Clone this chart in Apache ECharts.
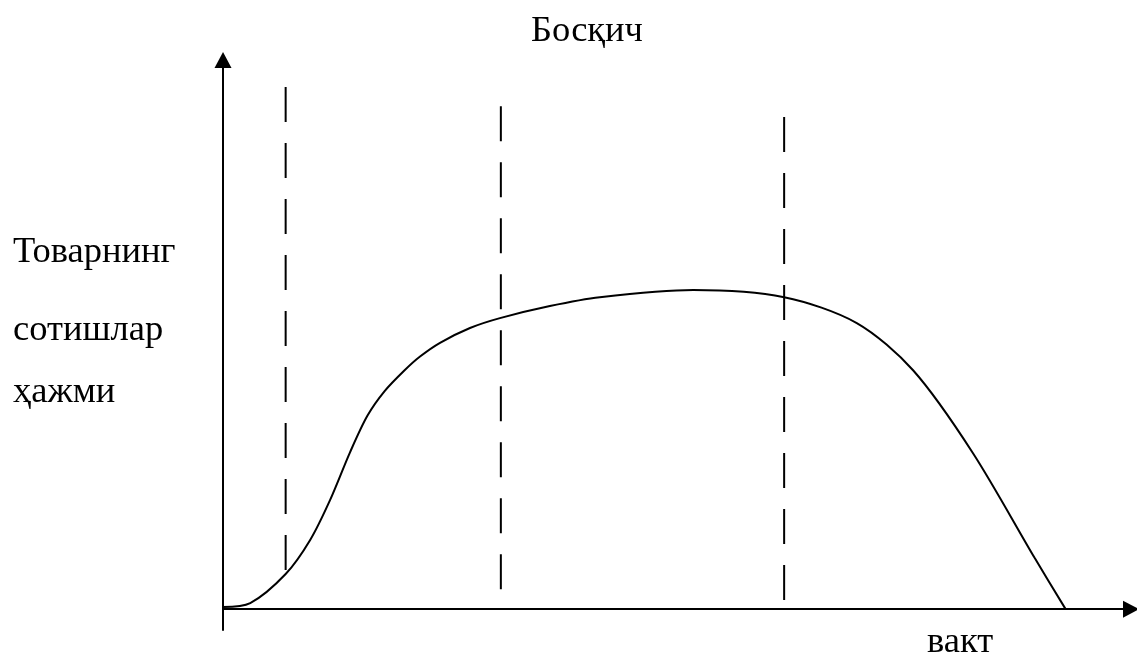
<!DOCTYPE html>
<html>
<head>
<meta charset="utf-8">
<script src="https://cdn.jsdelivr.net/npm/echarts@6/dist/echarts.min.js"></script>
<style>
  html, body { margin: 0; padding: 0; background: #fff; }
  #chart { width: 1137px; height: 656px; }
</style>
</head>
<body>
<div id="chart"></div>
<script>
// сотиш эгри чизиғи (вакт, ҳажм)
const curveX = [0, 3.0, 6.9, 9.6, 11.8, 14.0, 15.9, 17.8, 20.0, 21.7, 23.9, 27.2, 30.5, 36.0, 41.5, 51.8, 61.8, 69.8, 76.0, 82.6, 89.4, 92.8];
const curveY = [0.4, 1.1, 6.4, 12.6, 19.9, 28.6, 35.2, 39.7, 43.5, 46.0, 48.5, 51.2, 53.0, 55.2, 56.8, 58.1, 56.8, 52.1, 43.5, 28.4, 9.3, 0];

// босқич чегаралари (пунктир чизиқлар)
const stageX = [6.9, 30.6, 61.8];
const stageTop = [95.1, 91.6, 89.6];
const stageBottom = [3.8, 0.4, 1.1];

const titleText = "Босқич";
const yNameLines = ["Товарнинг", "сотишлар", "ҳажми"];
const xNameText = "вакт";

const font = '36.5px "Liberation Serif", "DejaVu Serif", serif';

const chart = echarts.init(document.getElementById("chart"));

const series = [];
stageX.forEach((x, i) => {
  series.push({
    type: "line",
    data: [[x, stageTop[i]], [x, stageBottom[i]]],
    symbol: "none",
    silent: true,
    lineStyle: { color: "#000", width: 2, type: [35, 21] },
  });
});
series.push({
  type: "line",
  data: curveX.map((x, i) => [x, curveY[i]]),
  smooth: 0.3,
  symbol: "none",
  lineStyle: { color: "#000", width: 2 },
});

const axisLine = (size) => ({
  show: true,
  symbol: ["none", "triangle"],
  symbolSize: size,
  lineStyle: { color: "#000", width: 2 },
});

const texts = [
  { text: titleText, x: 587, y: 31, align: "center" },
  { text: yNameLines[0], x: 13, y: 252, align: "left" },
  { text: yNameLines[1], x: 13, y: 330, align: "left" },
  { text: yNameLines[2], x: 13, y: 392, align: "left" },
  { text: xNameText, x: 927, y: 642, align: "left" },
];

chart.setOption({
  animation: false,
  grid: { left: 223, right: 6, top: 60, bottom: 26 },
  xAxis: {
    type: "value",
    min: 0,
    max: 100,
    axisLine: axisLine([17, 16]),
    axisTick: { show: false },
    axisLabel: { show: false },
    splitLine: { show: false },
  },
  yAxis: {
    type: "value",
    min: -3.8,
    max: 100,
    axisLine: axisLine([17, 16]),
    axisTick: { show: false },
    axisLabel: { show: false },
    splitLine: { show: false },
  },
  series: series,
  graphic: texts.map((t) => ({
    type: "text",
    style: {
      text: t.text,
      x: t.x,
      y: t.y,
      font: font,
      fill: "#000",
      textAlign: t.align,
      textVerticalAlign: "middle",
    },
  })),
});
</script>
</body>
</html>
